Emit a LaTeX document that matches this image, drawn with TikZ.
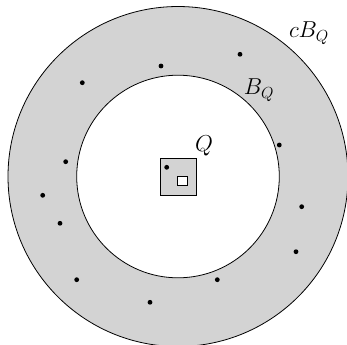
\documentclass[tikz,border=0pt]{standalone}
\begin{document}
\begin{tikzpicture}[x=0.75pt,y=-0.75pt,
  ring/.style={draw=black,line width=0.6pt},
  pt/.style={circle,fill=black,inner sep=0pt,minimum size=3.6pt},
  lbl/.style={inner sep=0pt,font=\fontsize{17}{20}\selectfont}]
\useasboundingbox (0,0) rectangle (347,344);
\clip (0,0) rectangle (347,344);
\definecolor{annulus}{RGB}{211,211,211}
\coordinate (c) at (178,176.5);
\fill[annulus] (c) circle[radius=170];
\draw[ring] (c) circle[radius=170];
\fill[white] (c) circle[radius=101.3];
\draw[ring] (c) circle[radius=101.3];
\draw[ring,fill=annulus] (160,158.5) rectangle (196.5,195);
\draw[ring,fill=white] (177.7,176.2) rectangle (187.2,185.7);
\node[lbl] (Q) at (204,146) {$Q$};
\node[lbl] (BQ) at (259,90) {$B_Q$};
\node[lbl] (cBQ) at (309,33) {$cB_Q$};
\foreach \x/\y [count=\i] in {240/54.3,161/66,82.3/82.7,279.3/145,65.7/161.7,42.7/195.3,301.7/206.7,60/223.3,296/251.7,76.7/279.7,217.3/279.7,150/302.3,166.7/167.3}
  \node[pt] (p\i) at (\x,\y) {};
\end{tikzpicture}
\end{document}
